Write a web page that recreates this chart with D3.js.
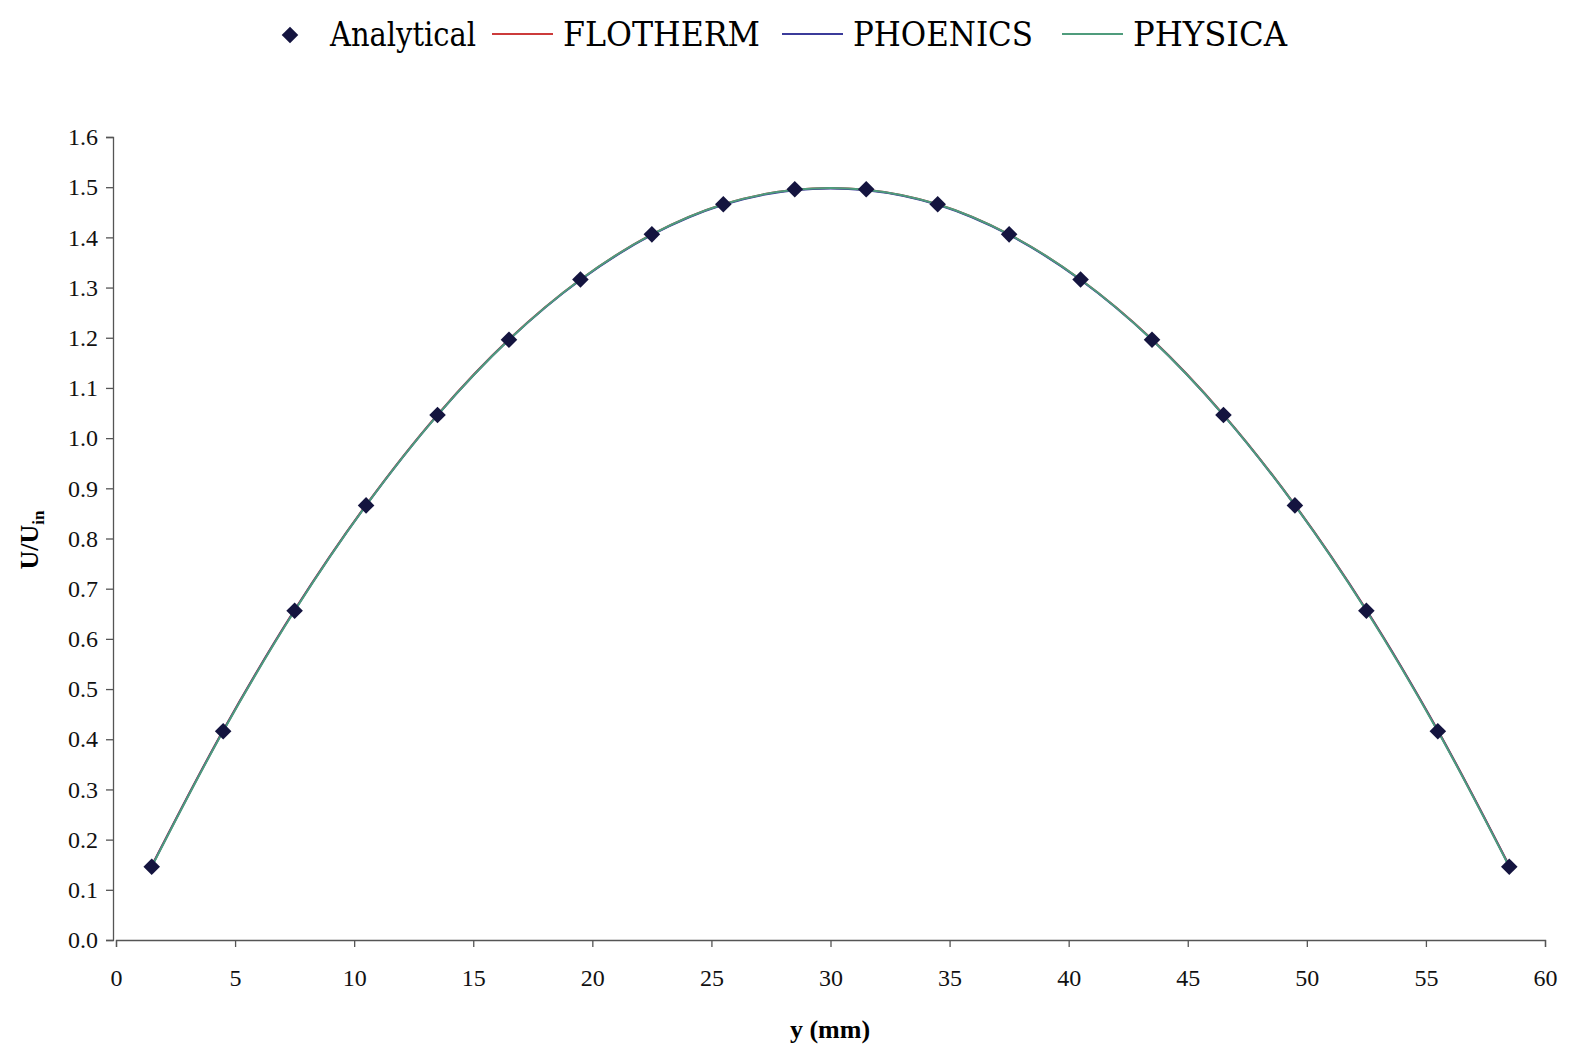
<!DOCTYPE html>
<html>
<head>
<meta charset="utf-8">
<script src="https://cdn.jsdelivr.net/npm/d3@7"></script>
<style>
  body { margin: 0; background: #fff; }
  .tick text { font-family: "Liberation Serif", "Times New Roman", serif; font-size: 24px; fill: #111; }
  .axis path, .axis line { stroke: #555; }
</style>
</head>
<body>
<svg width="1570" height="1045"></svg>
<script>
// y positions (mm) of the profile points
var yPos = [1.5, 4.5, 7.5, 10.5, 13.5, 16.5, 19.5, 22.5, 25.5, 28.5,
            31.5, 34.5, 37.5, 40.5, 43.5, 46.5, 49.5, 52.5, 55.5, 58.5];
var analytical = [0.146, 0.416, 0.656, 0.866, 1.046, 1.196, 1.316, 1.406, 1.466, 1.496,
                  1.496, 1.466, 1.406, 1.316, 1.196, 1.046, 0.866, 0.656, 0.416, 0.146];
var flotherm = [0.148, 0.418, 0.658, 0.867, 1.047, 1.197, 1.316, 1.406, 1.466, 1.495,
                1.495, 1.466, 1.406, 1.316, 1.197, 1.047, 0.867, 0.658, 0.418, 0.148];
var phoenics = [0.147, 0.417, 0.657, 0.866, 1.046, 1.196, 1.315, 1.405, 1.465, 1.494,
                1.494, 1.465, 1.405, 1.315, 1.196, 1.046, 0.866, 0.657, 0.417, 0.147];
var physica = [0.146, 0.416, 0.656, 0.866, 1.046, 1.196, 1.316, 1.406, 1.466, 1.495,
               1.495, 1.466, 1.406, 1.316, 1.196, 1.046, 0.866, 0.656, 0.416, 0.146];
var xTicks = [0, 5, 10, 15, 20, 25, 30, 35, 40, 45, 50, 55, 60];
var yTicks = [0, 0.1, 0.2, 0.3, 0.4, 0.5, 0.6, 0.7, 0.8, 0.9, 1.0, 1.1, 1.2, 1.3, 1.4, 1.5, 1.6];

var svg = d3.select("svg");
var plotLeft = 116, plotRight = 1545, plotTop = 137, plotBottom = 940;

var x = d3.scaleLinear().domain([0, 60]).range([plotLeft, plotRight]);
var y = d3.scaleLinear().domain([0, 1.6]).range([plotBottom, plotTop]);

svg.append("g")
    .attr("class", "axis")
    .attr("transform", "translate(0," + plotBottom + ")")
    .call(d3.axisBottom(x).tickValues(xTicks).tickSize(7).tickSizeOuter(7).tickPadding(22))
    .call(function (g) { g.selectAll("path, line").attr("stroke-width", 1.3); });

svg.append("g")
    .attr("class", "axis")
    .attr("transform", "translate(" + (plotLeft - 3) + ",0)")
    .call(d3.axisLeft(y).tickValues(yTicks).tickFormat(d3.format(".1f")).tickSize(7).tickSizeOuter(7).tickPadding(8))
    .call(function (g) { g.selectAll("path, line").attr("stroke-width", 1.3); });

// axis titles
svg.append("text")
    .attr("x", 830).attr("y", 1038)
    .attr("text-anchor", "middle")
    .style("font-family", "Liberation Serif, serif")
    .style("font-weight", "bold")
    .style("font-size", "26px")
    .text("y (mm)");

var yt = svg.append("text")
    .attr("transform", "translate(38,540) rotate(-90)")
    .attr("text-anchor", "middle")
    .style("font-family", "Liberation Serif, serif")
    .style("font-weight", "bold")
    .style("font-size", "26px");
yt.append("tspan").text("U/U");
yt.append("tspan").attr("dy", 6).style("font-size", "17px").text("in");

var series = [
  { name: "FLOTHERM", values: flotherm, color: "#cc3b3b" },
  { name: "PHOENICS", values: phoenics, color: "#3b3b9a" },
  { name: "PHYSICA", values: physica, color: "#4f9c7c" }
];

var line = d3.line()
    .x(function (d, i) { return x(yPos[i]); })
    .y(function (d) { return y(d); })
    .curve(d3.curveCatmullRom);

series.forEach(function (s) {
  svg.append("path")
      .attr("d", line(s.values))
      .attr("fill", "none")
      .attr("stroke", s.color)
      .attr("stroke-width", 2);
});

var diamond = d3.symbol().type(d3.symbolDiamond2).size(175);
svg.selectAll(".pt")
    .data(analytical)
    .enter()
    .append("path")
    .attr("class", "pt")
    .attr("d", diamond)
    .attr("transform", function (d, i) { return "translate(" + x(yPos[i]) + "," + y(d) + ")"; })
    .attr("fill", "#14143f");

// legend
var legend = svg.append("g").style("font-family", "DejaVu Serif Condensed, DejaVu Serif, serif").style("font-size", "33px");
legend.append("path").attr("d", diamond).attr("transform", "translate(290,35)").attr("fill", "#14143f");
legend.append("text").attr("x", 330).attr("y", 46).attr("textLength", 146)
    .attr("lengthAdjust", "spacingAndGlyphs").text("Analytical");
var legItems = [[492, 563, 197], [782, 853, 180], [1062, 1133, 154]];
series.forEach(function (s, i) {
  legend.append("line")
      .attr("x1", legItems[i][0]).attr("x2", legItems[i][0] + 61)
      .attr("y1", 34).attr("y2", 34)
      .attr("stroke", s.color).attr("stroke-width", 2);
  legend.append("text").attr("x", legItems[i][1]).attr("y", 46)
      .attr("textLength", legItems[i][2]).attr("lengthAdjust", "spacingAndGlyphs").text(s.name);
});
</script>
</body>
</html>
